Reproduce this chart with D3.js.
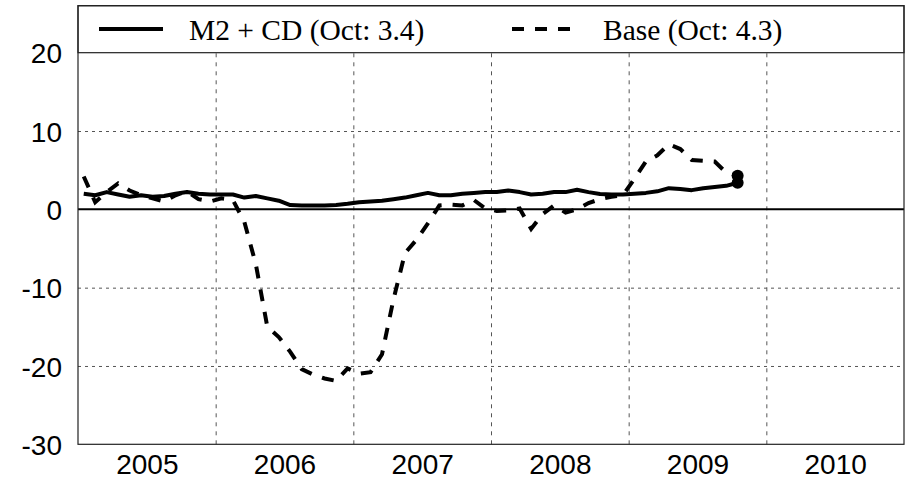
<!DOCTYPE html>
<html>
<head>
<meta charset="utf-8">
<script src="https://cdn.jsdelivr.net/npm/d3@7"></script>
<style>
    html, body { margin: 0; padding: 0; background: #fff; }
    svg { display: block; }
</style>
</head>
<body>
<div id="chart"></div>
<script>
// monthly values, Jan 2005 .. Oct 2009
const m2cd = [
    2.0, 1.8, 2.2, 1.9, 1.6, 1.8, 1.6, 1.7, 2.0, 2.2, 2.0, 1.9,
    1.9, 1.9, 1.5, 1.7, 1.4, 1.1, 0.55, 0.5, 0.5, 0.5, 0.55, 0.7,
    0.9, 1.0, 1.1, 1.3, 1.5, 1.8, 2.1, 1.8, 1.8, 2.0, 2.1, 2.2,
    2.2, 2.4, 2.2, 1.9, 2.0, 2.2, 2.2, 2.5, 2.2, 1.95, 1.9, 1.9,
    2.0, 2.1, 2.3, 2.7, 2.6, 2.45, 2.7, 2.85, 3.0, 3.4
];
const base = [
    4.2, 0.9, 2.2, 3.3, 2.4, 1.8, 1.4, 1.0, 1.8, 2.3, 1.3, 1.0,
    1.4, 1.2, -1.6, -7.0, -15.0, -16.3, -18.2, -20.4, -21.1, -21.6, -21.9, -20.3,
    -21.0, -20.8, -18.5, -11.5, -5.6, -3.9, -1.8, 0.5, 0.6, 0.5, 1.2, 0.1,
    -0.2, -0.15, 0.1, -2.5, -0.6, 0.5, -0.4, 0.0, 0.8, 1.3, 1.6, 1.8,
    3.9, 6.1, 6.9, 8.3, 7.7, 6.3, 6.2, 6.1, 4.7, 4.3
];
const startYear = 2005;
const years = [2005, 2006, 2007, 2008, 2009, 2010];
const yTicks = [-30, -20, -10, 0, 10, 20];
const seriesNames = ["M2 + CD (Oct: 3.4)", "Base (Oct: 4.3)"];

const W = 909, H = 480;
const plot = { left: 78, right: 904, top: 5.7, bottom: 444.3 };

const svg = d3.select("#chart")
    .append("svg")
    .attr("width", W)
    .attr("height", H);

const x = d3.scaleLinear().domain([2005, 2011]).range([plot.left, plot.right]);
const y = d3.scaleLinear().domain([-30, 26]).range([plot.bottom, plot.top]);

const monthX = i => x(startYear + (i + 0.5) / 12);

// grid
const grid = svg.append("g");
grid.append("g")
    .attr("transform", `translate(0,${plot.bottom})`)
    .call(d3.axisBottom(x).tickValues([2006, 2007, 2008, 2009, 2010]).tickSize(-(plot.bottom - plot.top)).tickFormat(""))
    .call(g => g.select(".domain").remove())
    .call(g => g.selectAll("line").attr("stroke", "#555").attr("stroke-dasharray", "4,5"));
grid.append("g")
    .attr("transform", `translate(${plot.left},0)`)
    .call(d3.axisLeft(y).tickValues([-20, -10, 10]).tickSize(-(plot.right - plot.left)).tickFormat(""))
    .call(g => g.select(".domain").remove())
    .call(g => g.selectAll("line").attr("stroke", "#555").attr("stroke-dasharray", "3,4"));

// zero line
svg.append("line")
    .attr("x1", plot.left).attr("x2", plot.right)
    .attr("y1", y(0)).attr("y2", y(0))
    .attr("stroke", "#000").attr("stroke-width", 2);

// axis labels
svg.append("g")
    .attr("transform", `translate(${plot.left - 16},0)`)
    .call(d3.axisLeft(y).tickValues(yTicks).tickSize(0).tickPadding(0).tickFormat(d => String(d)))
    .call(g => g.select(".domain").remove())
    .call(g => g.selectAll("text")
        .attr("font-family", "'Liberation Sans', Arial, sans-serif")
        .attr("font-size", 28)
        .attr("fill", "#000")
        .attr("dy", "0.36em"));

svg.append("g")
    .attr("transform", `translate(0,${plot.bottom})`)
    .call(d3.axisBottom(x).tickValues(years.map(d => d + 0.5)).tickSize(0).tickPadding(0).tickFormat(d => Math.floor(d)))
    .call(g => g.select(".domain").remove())
    .call(g => g.selectAll("text")
        .attr("font-family", "'Liberation Sans', Arial, sans-serif")
        .attr("font-size", 28)
        .attr("fill", "#000")
        .attr("dy", "1.05em"));

// series
const line = d3.line().x((d, i) => monthX(i)).y(d => y(d));

svg.append("path")
    .datum(base)
    .attr("d", line)
    .attr("fill", "none")
    .attr("stroke", "#000")
    .attr("stroke-width", 4)
    .attr("stroke-dasharray", "12,11");

svg.append("path")
    .datum(m2cd)
    .attr("d", line)
    .attr("fill", "none")
    .attr("stroke", "#000")
    .attr("stroke-width", 4)
    .attr("stroke-linejoin", "round");

[base, m2cd].forEach(s => {
    svg.append("circle")
        .attr("cx", monthX(s.length - 1))
        .attr("cy", y(s[s.length - 1]))
        .attr("r", 6)
        .attr("fill", "#000");
});

// legend box
svg.append("rect")
    .attr("x", plot.left).attr("y", plot.top)
    .attr("width", plot.right - plot.left).attr("height", y(20) - plot.top)
    .attr("fill", "#fff")
    .attr("stroke", "#222").attr("stroke-width", 1.2);

const legendY = 29;
svg.append("line")
    .attr("x1", 99).attr("x2", 163).attr("y1", legendY).attr("y2", legendY)
    .attr("stroke", "#000").attr("stroke-width", 4);
svg.append("line")
    .attr("x1", 512).attr("x2", 570).attr("y1", legendY).attr("y2", legendY)
    .attr("stroke", "#000").attr("stroke-width", 4).attr("stroke-dasharray", "12,11");

svg.selectAll(".legend-text")
    .data(seriesNames)
    .enter()
    .append("text")
    .attr("class", "legend-text")
    .attr("x", (d, i) => i === 0 ? 189 : 603)
    .attr("y", 40)
    .attr("font-family", "'Liberation Serif', 'Times New Roman', serif")
    .attr("font-size", 29.5)
    .attr("fill", "#000")
    .text(d => d);

// plot border
svg.append("rect")
    .attr("x", plot.left).attr("y", plot.top)
    .attr("width", plot.right - plot.left).attr("height", plot.bottom - plot.top)
    .attr("fill", "none")
    .attr("stroke", "#222").attr("stroke-width", 1.2);
</script>
</body>
</html>
